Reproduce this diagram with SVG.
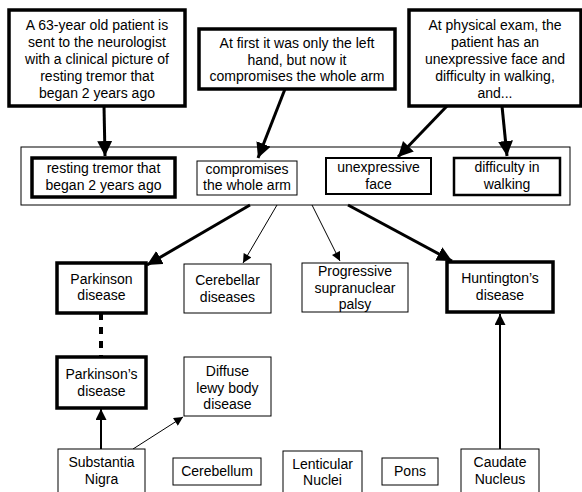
<svg xmlns="http://www.w3.org/2000/svg" width="582" height="492" viewBox="0 0 582 492">
<style>
text{font-family:"Liberation Sans",Arial,Helvetica,sans-serif;font-size:14px;fill:#000;text-anchor:middle}
rect{fill:#fff;stroke:#000}
.t1{stroke-width:1}
.t2{stroke-width:2}
.t3{stroke-width:3.5}
.c{fill:none;stroke:#000}
</style>
<defs>
<marker id="ah" viewBox="0 0 10 10" refX="10" refY="5" markerWidth="5" markerHeight="5" markerUnits="strokeWidth" orient="auto"><path d="M0,0L10,5L0,10z" fill="#000"/></marker>
<marker id="ahs" viewBox="0 0 10 10" refX="10" refY="5" markerWidth="10" markerHeight="9" markerUnits="strokeWidth" orient="auto"><path d="M0,0L10,5L0,10z" fill="#000"/></marker>
<marker id="ahm" viewBox="0 0 10 10" refX="10" refY="5" markerWidth="6" markerHeight="5.5" markerUnits="strokeWidth" orient="auto"><path d="M0,0L10,5L0,10z" fill="#000"/></marker>
</defs>
<g id="container"><rect class="t1" x="21" y="147" width="549" height="58"/></g>
<g id="connectors">
<line class="c" stroke-width="3" x1="104" y1="106" x2="105" y2="156" marker-end="url(#ah)"/>
<line class="c" stroke-width="3" x1="285" y1="89" x2="258" y2="158" marker-end="url(#ah)"/>
<line class="c" stroke-width="3" x1="447" y1="106" x2="398" y2="157" marker-end="url(#ah)"/>
<line class="c" stroke-width="3" x1="502" y1="106" x2="507" y2="156" marker-end="url(#ah)"/>
<line class="c" stroke-width="3" x1="250" y1="205" x2="147" y2="265" marker-end="url(#ah)"/>
<line class="c" stroke-width="1" x1="277" y1="205" x2="243" y2="263" marker-end="url(#ahs)"/>
<line class="c" stroke-width="1" x1="312" y1="205" x2="340" y2="261" marker-end="url(#ahs)"/>
<line class="c" stroke-width="3" x1="348" y1="205" x2="452" y2="261" marker-end="url(#ah)"/>
<line class="c" stroke-width="4" stroke-dasharray="7,7" x1="101" y1="313" x2="101" y2="357"/>
<line class="c" stroke-width="2" x1="101" y1="449" x2="101" y2="409" marker-end="url(#ahm)"/>
<line class="c" stroke-width="1" x1="133" y1="449" x2="183" y2="417" marker-end="url(#ahs)"/>
<line class="c" stroke-width="2" x1="500" y1="449" x2="500" y2="314" marker-end="url(#ahm)"/>
</g>
<g id="n1"><rect class="t3" x="9" y="10" width="176" height="96"/>
<text x="97" y="30">A 63-year old patient is</text><text x="97" y="47">sent to the neurologist</text><text x="97" y="63.5">with a clinical picture of</text><text x="97" y="80.5">resting tremor that</text><text x="97" y="97.5">began 2 years ago</text></g>
<g id="n2"><rect class="t3" x="199" y="29" width="196" height="60"/>
<text x="297" y="48">At first it was only the left</text><text x="297" y="64.5">hand, but now it</text><text x="297" y="81">compromises the whole arm</text></g>
<g id="n3"><rect class="t3" x="409" y="10" width="172" height="96"/>
<text x="495" y="30">At physical exam, the</text><text x="495" y="47">patient has an</text><text x="495" y="63.5">unexpressive face and</text><text x="495" y="80.5">difficulty in walking,</text><text x="495" y="97.5">and...</text></g>
<g id="s1"><rect class="t3" x="32" y="158" width="143" height="39"/>
<text x="103.5" y="173">resting tremor that</text><text x="103.5" y="190">began 2 years ago</text></g>
<g id="s2"><rect class="t1" x="197" y="161" width="100" height="34"/>
<text x="247" y="174">compromises</text><text x="247" y="190">the whole arm</text></g>
<g id="s3"><rect class="t2" x="326" y="158" width="105" height="36"/>
<text x="378.5" y="172">unexpressive</text><text x="378.5" y="189">face</text></g>
<g id="s4"><rect class="t2" style="stroke-width:2.5" x="454" y="158" width="106" height="37"/>
<text x="507" y="172">difficulty in</text><text x="507" y="189">walking</text></g>
<g id="d1"><rect class="t3" x="57" y="263" width="89" height="50"/>
<text x="101.5" y="284">Parkinson</text><text x="101.5" y="300">disease</text></g>
<g id="d2"><rect class="t1" x="184" y="264" width="87" height="49"/>
<text x="227.5" y="285">Cerebellar</text><text x="227.5" y="302">diseases</text></g>
<g id="d3"><rect class="t1" x="302" y="263" width="106" height="49"/>
<text x="355" y="276">Progressive</text><text x="355" y="292.5">supranuclear</text><text x="355" y="309">palsy</text></g>
<g id="d4"><rect class="t3" x="447" y="262" width="106" height="50"/>
<text x="500" y="283">Huntington’s</text><text x="500" y="300">disease</text></g>
<g id="d5"><rect class="t3" x="57" y="357" width="89" height="51"/>
<text x="101.5" y="379">Parkinson’s</text><text x="101.5" y="396">disease</text></g>
<g id="d6"><rect class="t1" x="184" y="357" width="87" height="59"/>
<text x="227.5" y="376">Diffuse</text><text x="227.5" y="392.5">lewy body</text><text x="227.5" y="409">disease</text></g>
<g id="b1"><rect class="t1" x="58" y="449" width="87" height="50"/>
<text x="101.5" y="467">Substantia</text><text x="101.5" y="484">Nigra</text></g>
<g id="b2"><rect class="t1" x="173" y="458" width="88" height="27"/>
<text x="217" y="476">Cerebellum</text></g>
<g id="b3"><rect class="t1" x="283" y="451" width="79" height="50"/>
<text x="322.5" y="469">Lenticular</text><text x="322.5" y="485">Nuclei</text></g>
<g id="b4"><rect class="t1" x="382" y="458" width="56" height="27"/>
<text x="410" y="476">Pons</text></g>
<g id="b5"><rect class="t1" x="461" y="449" width="78" height="50"/>
<text x="500" y="467">Caudate</text><text x="500" y="484">Nucleus</text></g>
</svg>
